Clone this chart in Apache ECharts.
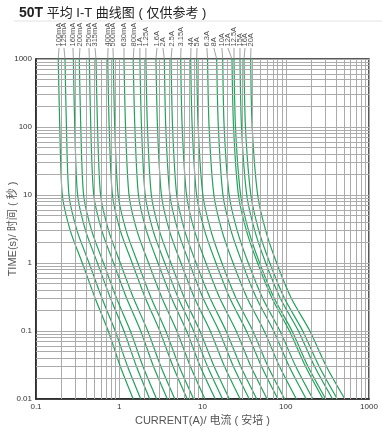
<!DOCTYPE html>
<html><head><meta charset="utf-8">
<script src="https://cdn.jsdelivr.net/npm/echarts@6/dist/echarts.min.js"></script>
<style>html,body{margin:0;padding:0;background:#fff}#c{width:382px;height:428px}</style>
</head><body><div id="c"></div>
<script>
// Time points (s) at which each curve's current (A) is read
const times = [1000, 100, 10, 3, 1, 0.3, 0.1, 0.03, 0.01];

const ratings = ['100mA','125mA','160mA','200mA','250mA','315mA','400mA','500mA','630mA','800mA',
  '1A','1.25A','1.6A','2A','2.5A','3.15A','4A','5A','6.3A','8A','10A','12A','12.5A','15A','16A','20A'];

const c100mA = [0.185, 0.193, 0.207, 0.258, 0.360, 0.515, 0.738, 1.03, 1.47];
const c125mA = [0.223, 0.232, 0.249, 0.311, 0.434, 0.622, 0.895, 1.26, 1.81];
const c160mA = [0.281, 0.292, 0.316, 0.394, 0.547, 0.787, 1.14, 1.61, 2.32];
const c200mA = [0.331, 0.345, 0.373, 0.466, 0.647, 0.931, 1.36, 1.93, 2.81];
const c250mA = [0.437, 0.455, 0.494, 0.617, 0.855, 1.23, 1.81, 2.58, 3.78];
const c315mA = [0.526, 0.548, 0.597, 0.745, 1.03, 1.49, 2.20, 3.16, 4.65];
const c400mA = [0.727, 0.757, 0.828, 1.03, 1.43, 2.07, 3.07, 4.43, 6.55];
const c500mA = [0.848, 0.883, 0.970, 1.21, 1.67, 2.43, 3.62, 5.25, 7.82];
const c630mA = [1.14, 1.19, 1.31, 1.63, 2.25, 3.28, 4.92, 7.16, 10.7];
const c800mA = [1.47, 1.54, 1.70, 2.12, 2.92, 4.27, 6.44, 9.40, 14.2];
const c1A    = [1.77, 1.85, 2.05, 2.55, 3.52, 5.14, 7.82, 11.5, 17.4];
const c1_25A = [2.09, 2.18, 2.43, 3.03, 4.17, 6.10, 9.31, 13.8, 21.0];
const c1_6A  = [2.76, 2.88, 3.21, 4.00, 5.51, 8.07, 12.4, 18.4, 28.3];
const c2A    = [3.48, 3.62, 4.06, 5.06, 6.95, 10.2, 15.8, 23.5, 36.4];
const c2_5A  = [4.19, 4.37, 4.90, 6.11, 8.38, 12.4, 19.2, 28.8, 44.8];
const c3_15A = [5.47, 5.70, 6.43, 8.01, 11.0, 16.2, 25.4, 38.2, 59.7];
const c4A    = [7.21, 7.52, 8.49, 10.6, 14.5, 21.4, 33.7, 51.2, 80.4];
const c5A    = [8.51, 8.87, 10.1, 12.6, 17.1, 25.4, 40.3, 61.2, 96.8];
const c6_3A  = [11.5, 12.0, 13.7, 17.1, 23.3, 34.6, 55.1, 84.3, 134];
const c8A    = [14.8, 15.5, 17.6, 22.0, 30.0, 44.7, 71.6, 110, 176];
const c10A   = [17.5, 18.2, 20.9, 26.1, 35.5, 53.0, 85.3, 132, 212];
const c12A   = [22.6, 23.6, 27.0, 33.7, 45.9, 68.7, 111, 173, 280];
const c12_5A = [23.9, 24.9, 28.7, 35.8, 48.6, 72.9, 119, 185, 302];
const c15A   = [28.2, 29.4, 34.0, 42.4, 57.5, 86.3, 142, 222, 365];
const c16A   = [31.5, 32.8, 38.1, 47.5, 64.4, 96.8, 160, 252, 416];
const c20A   = [37.9, 39.5, 46.0, 57.4, 77.8, 117, 195, 308, 512];

const curves = [c100mA,c125mA,c160mA,c200mA,c250mA,c315mA,c400mA,c500mA,c630mA,c800mA,
  c1A,c1_25A,c1_6A,c2A,c2_5A,c3_15A,c4A,c5A,c6_3A,c8A,c10A,c12A,c12_5A,c15A,c16A,c20A];

// Current at which each rating label sits (above the plot)
const labelCurrents = [0.189,0.217,0.278,0.337,0.433,0.512,0.733,0.841,1.14,1.50,
  1.77,2.09,2.84,3.35,4.30,5.52,7.27,8.59,11.3,13.7,17.1,20.2,23.9,28.2,32.4,38.2];
const leaderTime = 1450;   // time level where leader lines end
const labelTime = 1500;    // time level of label anchors

const xTicks = [0.1, 1, 10, 100, 1000];
const yTicks = [0.01, 0.1, 1, 10, 100, 1000];
const gridX = [0.2,0.3,0.4,0.5,0.6,0.7,0.8,0.9, 2,3,4,5,6,7,8,9, 20,30,40,50,60,70,80,90, 200,300,400,500,600,700,800,900];
const gridY = [0.02,0.03,0.04,0.05,0.06,0.07,0.08,0.09, 0.2,0.3,0.4,0.5,0.6,0.7,0.8,0.9, 2,3,4,5,6,7,8,9, 20,30,40,50,60,70,80,90, 200,300,400,500,600,700,800,900];

const GREEN = '#22a25a';
const FONT = '"Liberation Sans", Arial, "Noto Sans CJK SC", sans-serif';

const chart = echarts.init(document.getElementById('c'), null, {renderer: 'canvas'});
const series = [];
series.push({
  type: 'line', data: [], z: 1, silent: true, animation: false,
  markLine: {
    silent: true, symbol: 'none', animation: false, label: {show: false},
    lineStyle: {color: '#ababab', width: 1, type: 'solid'},
    emphasis: {disabled: true},
    data: [...gridX.map(v => ({xAxis: v})), ...gridY.map(v => ({yAxis: v}))]
  }
});
curves.forEach((cur, k) => {
  series.push({
    type: 'line', name: ratings[k], z: 3, smooth: 0.25, symbol: 'none', animation: false, silent: true,
    lineStyle: {color: GREEN, width: 1.2},
    data: times.map((t, i) => [cur[i], t])
  });
  series.push({
    type: 'line', z: 2, clip: false, symbol: 'none', animation: false, silent: true,
    lineStyle: {color: '#8a8a8a', width: 0.8},
    data: [[cur[0], times[0]], [labelCurrents[k], leaderTime]]
  });
});
series.push({
  type: 'scatter', clip: false, symbolSize: 1, animation: false, silent: true,
  itemStyle: {color: 'rgba(0,0,0,0)'},
  label: {show: true, formatter: '{b}', rotate: 90, position: 'top', distance: 0,
    align: 'left', verticalAlign: 'middle', fontSize: 7.5, color: '#1a1a1a', fontFamily: FONT},
  data: ratings.map((r, k) => ({name: r, value: [labelCurrents[k], labelTime]}))
});

const fmt = v => String(+Number(v).toPrecision(3));

chart.setOption({
  backgroundColor: '#fff',
  animation: false,
  textStyle: {fontFamily: FONT},
  title: {
    text: '{b|50T} 平均 I-T 曲线图 ( 仅供参考 )', left: 14, top: 1,
    textStyle: {fontSize: 13, fontWeight: 'normal', color: '#222', fontFamily: FONT,
      rich: {b: {fontSize: 14, fontWeight: 'bold', color: '#222', fontFamily: FONT}}}
  },
  graphic: [{type: 'line', shape: {x1: 14, y1: 21, x2: 382, y2: 21}, style: {stroke: '#e2e2e2', lineWidth: 1}, silent: true}],
  grid: {left: 36, right: 13, top: 59, bottom: 29, outerBoundsMode: 'none', containLabel: false,
    show: true, borderColor: '#222', borderWidth: 1.5, backgroundColor: 'transparent'},
  xAxis: {
    type: 'log', logBase: 10, min: xTicks[0], max: xTicks[xTicks.length - 1],
    name: 'CURRENT(A)/ 电流 ( 安培 )', nameLocation: 'middle', nameGap: 13,
    nameTextStyle: {fontSize: 11, color: '#555', fontFamily: FONT},
    axisLine: {show: true, lineStyle: {color: '#222', width: 1.5}},
    axisTick: {show: false},
    axisLabel: {fontSize: 8, color: '#333', margin: 4, formatter: fmt},
    splitLine: {show: true, lineStyle: {color: '#ababab', width: 1}}
  },
  yAxis: {
    type: 'log', logBase: 10, min: yTicks[0], max: yTicks[yTicks.length - 1],
    name: 'TIME(s)/ 时间 ( 秒 )', nameLocation: 'middle', nameGap: 18, nameRotate: 90, nameMoveOverlap: false,
    nameTextStyle: {fontSize: 11, color: '#555', fontFamily: FONT},
    axisLine: {show: true, lineStyle: {color: '#222', width: 1.5}},
    axisTick: {show: false},
    axisLabel: {fontSize: 8, color: '#333', margin: 4, formatter: fmt},
    splitLine: {show: true, lineStyle: {color: '#ababab', width: 1}}
  },
  series: series
});
</script>
</body></html>
